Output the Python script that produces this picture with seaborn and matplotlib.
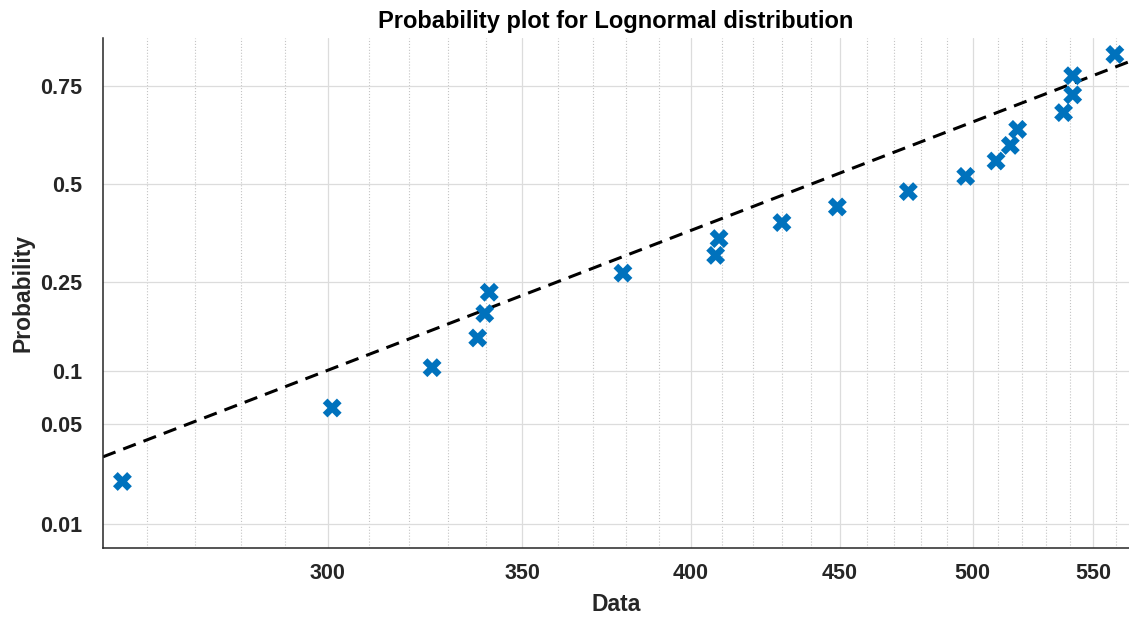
import math
from statistics import NormalDist

import numpy as np
import pandas as pd
import matplotlib
matplotlib.use("Agg")
import matplotlib.pyplot as plt
from matplotlib.ticker import FixedLocator, FixedFormatter, NullFormatter, NullLocator
import seaborn as sns

# ─── DATA ────────────────────────────────────────────────────
# sorted sample values (only those inside the visible range)
data_values = [254.9, 301.0, 325.8, 337.8, 339.7, 340.9, 379.0, 407.9, 409.0, 429.9,
               449.2, 475.2, 497.3, 509.4, 515.2, 518.2, 537.4, 541.3, 541.3, 559.7]
# plotting positions (i - 0.5) / n
probabilities = [0.0208, 0.0625, 0.1042, 0.1458, 0.1875, 0.2292, 0.2708, 0.3125, 0.3542, 0.3958,
                 0.4375, 0.4792, 0.5208, 0.5625, 0.6042, 0.6458, 0.6875, 0.7292, 0.7708, 0.8125]

# fitted lognormal reference line (mean and sd of log data)
ref_mu = 6.087
ref_sigma = 0.3005

x_major_ticks = [300, 350, 400, 450, 500, 550]
x_minor_ticks = [260, 270, 280, 290, 310, 320, 330, 340, 360, 370, 380, 390,
                 410, 420, 430, 440, 460, 470, 480, 490, 510, 520, 530, 540, 560]
y_ticks = [0.01, 0.05, 0.1, 0.25, 0.5, 0.75]
y_tick_labels = ["0.01", "0.05", "0.1", "0.25", "0.5", "0.75"]

X_LIM = (251.0, 566.0)
Y_LIM = (0.00633, 0.8413)

# ─── NORMAL PROBABILITY SCALE ────────────────────────────────
_nd = NormalDist()


def _ppf_one(p):
    if not np.isfinite(p):
        return np.nan
    p = min(max(p, 1e-9), 1 - 1e-9)
    return _nd.inv_cdf(p)


def _cdf_one(z):
    if not np.isfinite(z):
        return np.nan
    return _nd.cdf(z)


def prob_forward(p):
    return np.vectorize(_ppf_one, otypes=[float])(np.asarray(p, dtype=float))


def prob_inverse(z):
    return np.vectorize(_cdf_one, otypes=[float])(np.asarray(z, dtype=float))


# ─── STYLE ───────────────────────────────────────────────────
sns.set_style("white")
plt.rcParams["font.family"] = ["Liberation Sans", "DejaVu Sans"]
plt.rcParams["font.weight"] = "bold"
plt.rcParams["axes.titleweight"] = "bold"
plt.rcParams["axes.labelweight"] = "bold"

TEXT_COLOR = "#262626"
BLUE = "#0072BD"

df = pd.DataFrame({"Data": data_values, "Probability": probabilities})

ref_dist = NormalDist(ref_mu, ref_sigma)
line_x = np.geomspace(X_LIM[0], X_LIM[1], 60)
line_y = [ref_dist.cdf(math.log(v)) for v in line_x]

fig = plt.figure(figsize=(11.29, 6.17), dpi=100)
ax = fig.add_axes([0.0912, 0.1118, 0.9088, 0.8266])

ax.set_xscale("log")
ax.set_yscale("function", functions=(prob_forward, prob_inverse))

sns.lineplot(x=line_x, y=line_y, color="black", linewidth=2.2,
             linestyle=(0, (4.4, 2.7)), ax=ax, zorder=2)
sns.scatterplot(data=df, x="Data", y="Probability", marker="X", s=185,
                color=BLUE, edgecolor="none", ax=ax, zorder=3)

ax.set_xlim(*X_LIM)
ax.set_ylim(*Y_LIM)

# ticks
ax.xaxis.set_major_locator(FixedLocator(x_major_ticks))
ax.xaxis.set_major_formatter(FixedFormatter([str(t) for t in x_major_ticks]))
ax.xaxis.set_minor_locator(FixedLocator(x_minor_ticks))
ax.xaxis.set_minor_formatter(NullFormatter())
ax.yaxis.set_major_locator(FixedLocator(y_ticks))
ax.yaxis.set_major_formatter(FixedFormatter(y_tick_labels))
ax.yaxis.set_minor_locator(NullLocator())

ax.tick_params(axis="both", which="major", direction="in", length=6.5, width=1.0,
               color=TEXT_COLOR, labelcolor=TEXT_COLOR, labelsize=15.5)
ax.tick_params(axis="x", which="major", pad=11)
ax.tick_params(axis="y", which="major", pad=15)
ax.tick_params(axis="x", which="minor", direction="in", length=3.0, width=0.9,
               color=TEXT_COLOR)

# grid
ax.set_axisbelow(True)
ax.grid(True, which="major", color="#DCDCDC", linewidth=0.9, linestyle="-")
ax.grid(True, which="minor", axis="x", color="#C4C4C4", linewidth=0.8, linestyle=":")

for side in ["top", "right"]:
    ax.spines[side].set_visible(False)
for side in ["left", "bottom"]:
    ax.spines[side].set_color(TEXT_COLOR)
    ax.spines[side].set_linewidth(1.1)

ax.set_title("Probability plot for Lognormal distribution", fontsize=17,
             color="black", pad=7)
ax.set_xlabel("Data", fontsize=16.5, color=TEXT_COLOR, labelpad=6)
ax.set_ylabel("Probability", fontsize=16.5, color=TEXT_COLOR, labelpad=4)

fig.savefig("out.png", dpi=100)
plt.close(fig)
